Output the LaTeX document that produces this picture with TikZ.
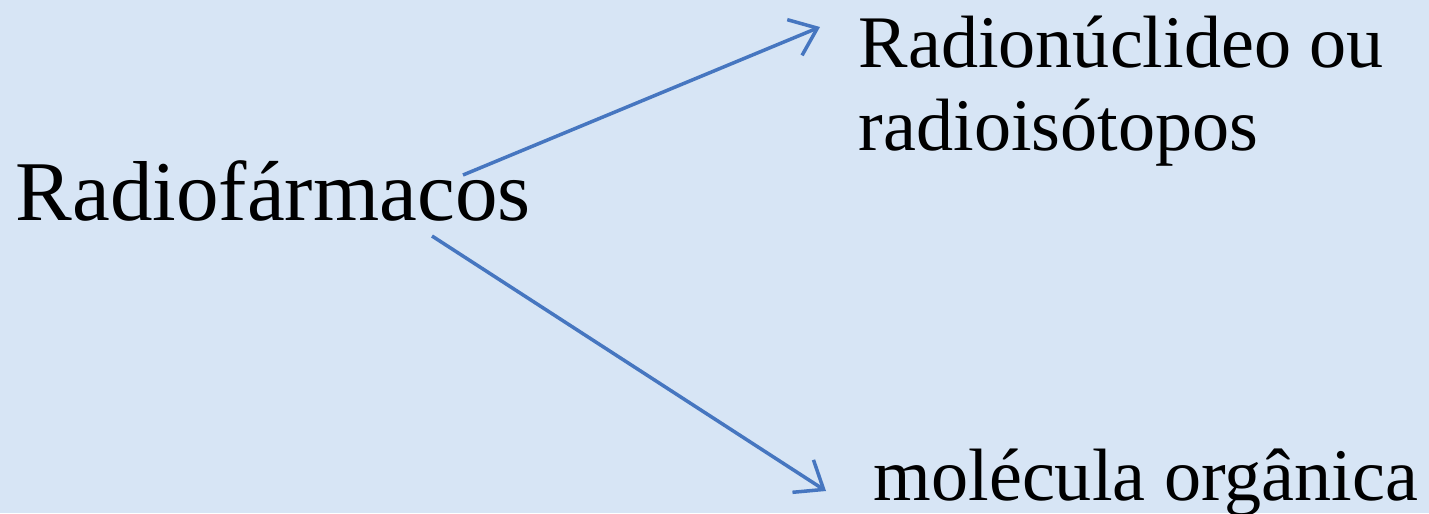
\documentclass[tikz,border=0pt]{standalone}
\usepackage{fontspec}
\setmainfont{Liberation Serif}
\usetikzlibrary{arrows.meta}
\definecolor{paleblue}{RGB}{215,229,245}
\definecolor{linkblue}{RGB}{70,118,192}

\begin{document}
\begin{tikzpicture}[>={Straight Barb[length=7pt,width=11pt]},
  link/.style={linkblue, line width=1pt, ->},
  bigword/.style={inner sep=0pt, anchor=base west, font=\fontsize{24.2}{29}\selectfont},
  smallword/.style={inner sep=0pt, anchor=base west, align=left, font=\fontsize{21.1}{23.5}\selectfont}]

% background
\fill[paleblue] (0,0) rectangle (14.29,5.13);
\useasboundingbox (0,0) rectangle (14.29,5.13);

% words
\node[bigword]   (drug)  at (0.15,2.93) {Radiofármacos};
\node[smallword] (nucl)  at (8.58,3.63) {Radionúclideo ou\\radioisótopos};
\node[smallword] (molec) at (8.73,0.13) {molécula orgânica};

% arrow ends
\coordinate (fromA) at (4.63,3.38);
\coordinate (toA)   at (8.20,4.86);
\coordinate (fromB) at (4.32,2.77);
\coordinate (toB)   at (8.26,0.22);

% links
\draw[link] (fromA) -- (toA);
\draw[link] (fromB) -- (toB);

\end{tikzpicture}
\end{document}
